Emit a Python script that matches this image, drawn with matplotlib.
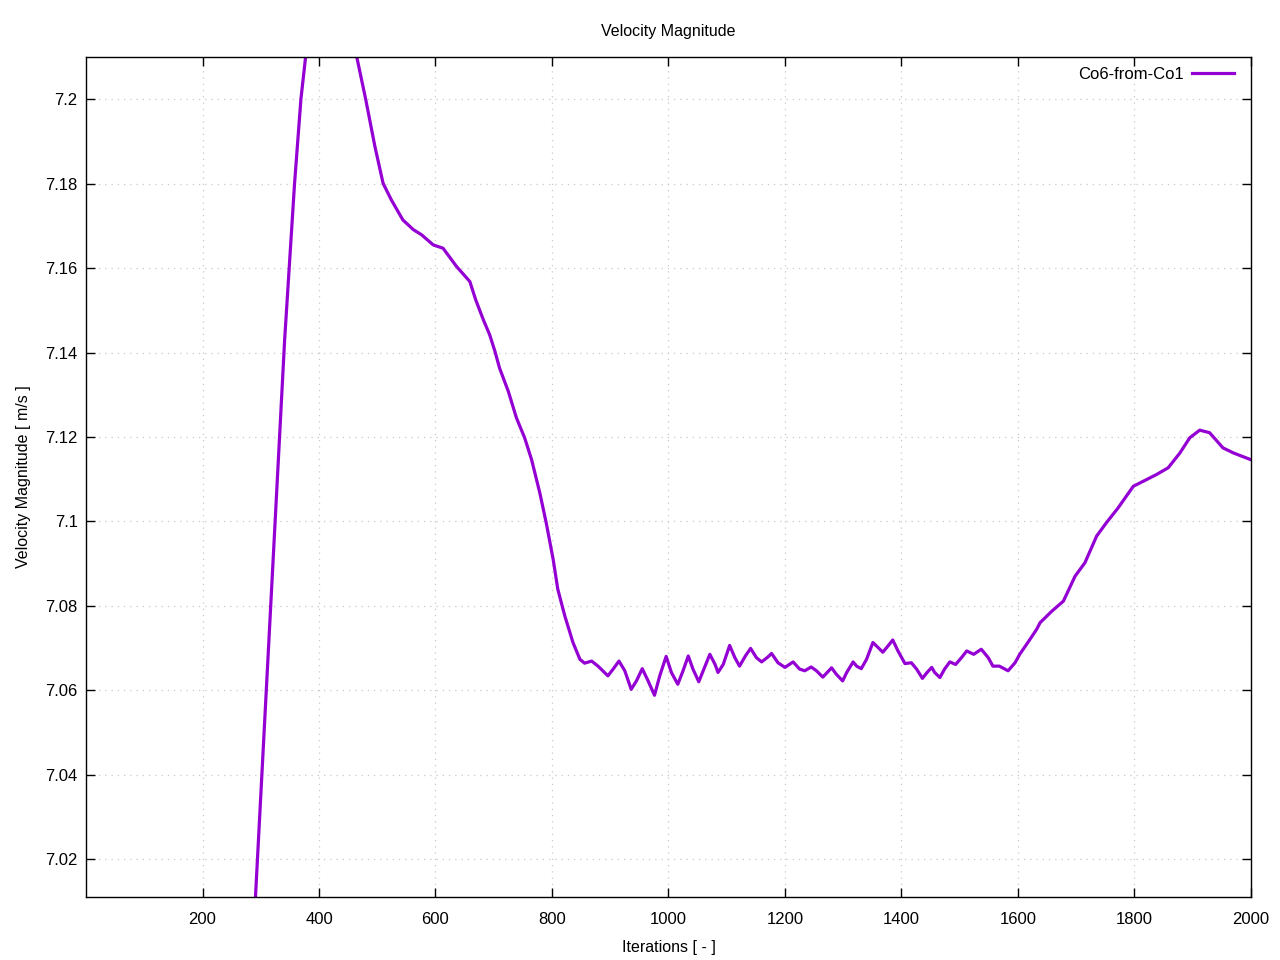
import matplotlib
matplotlib.use('Agg')
import matplotlib.pyplot as plt
from matplotlib.ticker import FormatStrFormatter

plt.rcParams['font.family'] = ['Liberation Sans', 'DejaVu Sans']

# Iterations and velocity magnitude
iterations = [285, 291, 341, 358, 369, 377, 390, 410, 430, 450, 465, 480, 496, 510,
              524, 544, 562, 576, 596, 613, 636, 659, 669, 682, 693, 702, 710, 725,
              739, 753, 765, 779, 790, 802, 810, 822, 836, 848, 856, 868, 879,
              896, 905, 915, 925, 936, 945, 955, 965, 976, 985, 996, 1005, 1016,
              1025, 1034, 1042, 1052, 1062, 1071, 1080, 1085, 1094, 1105, 1114,
              1122, 1132, 1141, 1151, 1160, 1171, 1177, 1188, 1200, 1214, 1225,
              1234, 1245, 1254, 1265, 1280, 1288, 1299, 1306, 1317, 1323, 1331,
              1340, 1351, 1368, 1377, 1385, 1394, 1406, 1417, 1426, 1436, 1444,
              1452, 1457, 1466, 1474, 1483, 1493, 1503, 1512, 1524, 1537, 1549,
              1557, 1568, 1583, 1595, 1603, 1617, 1632, 1638,
              1658, 1678, 1698, 1715, 1735, 1752, 1772, 1798, 1815, 1838, 1858,
              1878, 1895, 1912, 1929, 1952, 1970, 2000]
velocity = [7.0030, 7.0112, 7.1430, 7.1800, 7.2001, 7.2100, 7.2190, 7.2240, 7.2240,
            7.2190, 7.2099, 7.2001, 7.1888, 7.1801, 7.1762, 7.1714, 7.1691, 7.1679,
            7.1655, 7.1647, 7.1604, 7.1568, 7.1525, 7.1478, 7.1442, 7.1403, 7.1363,
            7.1308, 7.1245, 7.1198, 7.1146, 7.1068, 7.0997, 7.0910, 7.0839, 7.0776,
            7.0713, 7.0673, 7.0664, 7.0669, 7.0657,
            7.0634, 7.0650, 7.0669, 7.0646, 7.0602, 7.0622, 7.0651, 7.0622, 7.0588,
            7.0634, 7.0680, 7.0642, 7.0614,
            7.0646, 7.0681, 7.0650, 7.0620, 7.0654, 7.0685, 7.0661, 7.0642, 7.0661,
            7.0706, 7.0677,
            7.0657, 7.0681, 7.0699, 7.0677, 7.0667, 7.0679, 7.0687, 7.0665, 7.0654,
            7.0667, 7.0650,
            7.0646, 7.0655, 7.0646, 7.0631, 7.0653, 7.0638, 7.0622, 7.0642, 7.0667,
            7.0657, 7.0651,
            7.0673, 7.0713, 7.0690, 7.0705, 7.0719, 7.0693, 7.0663, 7.0665, 7.0650,
            7.0628, 7.0642,
            7.0654, 7.0642, 7.0630, 7.0650, 7.0667, 7.0661, 7.0677, 7.0693, 7.0685,
            7.0697, 7.0677,
            7.0657, 7.0657, 7.0646, 7.0665, 7.0685, 7.0713, 7.0744, 7.0760,
            7.0787, 7.0811, 7.0870, 7.0902, 7.0965, 7.0997, 7.1032, 7.1083, 7.1095,
            7.1111, 7.1127, 7.1162, 7.1198, 7.1216, 7.1210, 7.1174, 7.1162, 7.1146]

x_ticks = [200, 400, 600, 800, 1000, 1200, 1400, 1600, 1800, 2000]
y_ticks = [7.02, 7.04, 7.06, 7.08, 7.1, 7.12, 7.14, 7.16, 7.18, 7.2]

fig = plt.figure(figsize=(12.8, 9.6), dpi=100)
ax = fig.add_axes([0.0672, 0.0656, 0.9101, 0.875])

ax.plot(iterations, velocity, color='#9400D3', linewidth=2.3, label='Co6-from-Co1',
        solid_joinstyle='round')

ax.set_xlim(0, 2000)
ax.set_ylim(7.011, 7.21)
ax.set_xticks(x_ticks)
ax.set_yticks(y_ticks)
ax.yaxis.set_major_formatter(FormatStrFormatter('%g'))

ax.grid(True, color='#c8c8c8', linestyle=(0, (1, 4)), linewidth=0.9)
ax.tick_params(direction='in', length=6.5, width=1, top=True, right=True,
               labelsize=12)
ax.tick_params(axis='x', pad=11)
ax.tick_params(axis='y', pad=6)
for s in ax.spines.values():
    s.set_linewidth(1)

ax.set_title('Velocity Magnitude', fontsize=11.5, pad=15)
ax.set_xlabel('Iterations [ - ]', fontsize=11.5, labelpad=9)
ax.set_ylabel('Velocity Magnitude [ m/s ]', fontsize=11.5, labelpad=10)

ax.legend(loc='upper right', frameon=False, markerfirst=False, fontsize=12,
          handlelength=2.5, handletextpad=0.5, borderaxespad=0.35,
          bbox_to_anchor=(0.996, 1.003))

fig.savefig('out.png', dpi=100)
